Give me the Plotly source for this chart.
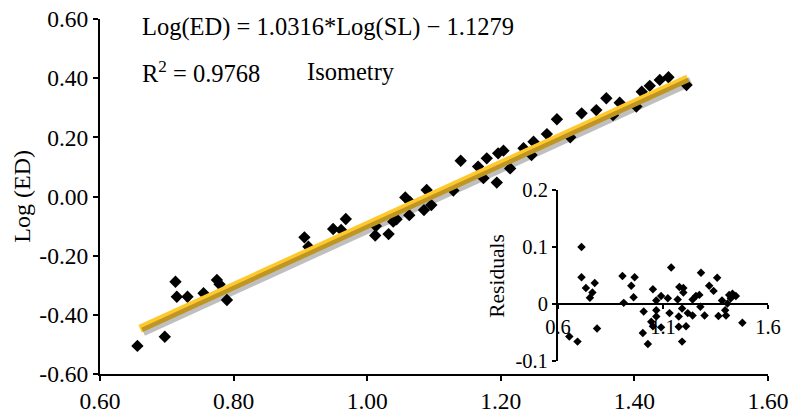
import plotly.graph_objects as go

# ---- data ----
log_sl = [0.656, 0.697, 0.713, 0.715, 0.731, 0.755, 0.775, 0.779, 0.790,
          0.906, 0.912, 0.949, 0.961, 0.968, 1.012, 1.013, 1.032, 1.039, 1.044,
          1.057, 1.063, 1.064, 1.085, 1.089, 1.096, 1.129, 1.140, 1.166, 1.174,
          1.179, 1.194, 1.196, 1.204, 1.214, 1.234, 1.246, 1.249, 1.269, 1.284,
          1.304, 1.321, 1.343, 1.358, 1.368, 1.378, 1.403, 1.411, 1.423, 1.438,
          1.451, 1.478]
log_ed = [-0.505, -0.474, -0.288, -0.339, -0.339, -0.327, -0.282, -0.297, -0.350,
          -0.138, -0.170, -0.110, -0.113, -0.076, -0.132, -0.100, -0.127, -0.085, -0.077,
          -0.003, -0.063, -0.018, -0.046, 0.022, -0.029, 0.020, 0.121, 0.101, 0.062,
          0.129, 0.047, 0.146, 0.155, 0.095, 0.163, 0.140, 0.185, 0.211, 0.261,
          0.200, 0.281, 0.292, 0.332, 0.275, 0.317, 0.304, 0.354, 0.374, 0.394,
          0.403, 0.377]

fit_x = [0.66, 1.48]
fit_y = [-0.447, 0.399]

res_x = [0.712, 0.712, 0.733, 0.775, 0.764, 0.752, 0.786, 0.654, 0.693,
         0.907, 0.913, 0.949, 0.965, 0.960, 1.008, 1.052, 1.068, 1.091, 1.068,
         1.044, 1.052, 1.091, 1.004, 1.028, 1.068, 1.131, 1.139, 1.175, 1.175,
         1.170, 1.178, 1.197, 1.197, 1.191, 1.210, 1.191, 1.218, 1.241, 1.241,
         1.257, 1.273, 1.281, 1.278, 1.298, 1.320, 1.341, 1.358, 1.364, 1.381,
         1.396, 1.400, 1.407, 1.415, 1.431, 1.447, 1.423, 1.478, 1.123]
res_y = [0.100, 0.047, 0.028, 0.037, 0.020, 0.011, -0.043, -0.057, -0.066,
         0.049, 0.002, 0.032, 0.047, 0.012, -0.013, 0.026, 0.006, 0.014, -0.011,
         -0.031, -0.039, -0.041, -0.051, -0.070, -0.022, -0.016, 0.064, -0.022, -0.040,
         0.008, 0.030, 0.028, 0.020, -0.008, -0.039, -0.066, -0.016, -0.020, 0.008,
         0.014, 0.016, 0.055, -0.005, -0.020, 0.032, 0.023, 0.046, -0.021, 0.006,
         -0.011, -0.020, 0.001, 0.016, 0.018, 0.014, 0.010, -0.033, 0.010]

x_ticks = [0.6, 0.8, 1.0, 1.2, 1.4, 1.6]
x_tick_text = ["0.60", "0.80", "1.00", "1.20", "1.40", "1.60"]
y_ticks = [-0.6, -0.4, -0.2, 0.0, 0.2, 0.4, 0.6]
y_tick_text = ["-0.60", "-0.40", "-0.20", "0.00", "0.20", "0.40", "0.60"]
res_x_ticks = [0.6, 1.1, 1.6]
res_x_text = ["0.6", "1.1", "1.6"]
res_y_ticks = [-0.1, 0.0, 0.1, 0.2]
res_y_text = ["-0.1", "0", "0.1", "0.2"]

equation = "Log(ED) = 1.0316*Log(SL) \u2212 1.1279"
r2_text = "R<sup>2</sup> = 0.9768"
iso_text = "Isometry"
y_title = "Log (ED)"
res_title = "Residuals"

FONT = "Liberation Serif"

fig = go.Figure()

# shadow of the trend line (drawn on a hidden axis pair offset by a few pixels)
fig.add_trace(go.Scatter(x=fit_x, y=fit_y, mode="lines", xaxis="x3", yaxis="y3",
                         line=dict(color="rgba(0,0,0,0.25)", width=9),
                         hoverinfo="skip", showlegend=False))
fig.add_trace(go.Scatter(x=log_sl, y=log_ed, mode="markers",
                         marker=dict(symbol="diamond", size=9.5, color="black"),
                         showlegend=False))
fig.add_trace(go.Scatter(x=fit_x, y=fit_y, mode="lines",
                         line=dict(color="#FFC92E", width=8),
                         showlegend=False))
fig.add_trace(go.Scatter(x=res_x, y=res_y, mode="markers", xaxis="x2", yaxis="y2",
                         marker=dict(symbol="diamond", size=6.5, color="black"),
                         showlegend=False))

axis_common = dict(showgrid=False, zeroline=False, showline=True, linecolor="black",
                   linewidth=2, ticks="outside", ticklen=5, tickwidth=1.5, automargin=False,
                   tickcolor="black", tickfont=dict(family=FONT, size=23.5, color="black"))
inset_common = dict(showgrid=False, zeroline=False, showline=True, linecolor="black",
                    linewidth=2, ticks="outside", ticklen=4, tickwidth=1.5, automargin=False,
                    tickcolor="black", tickfont=dict(family=FONT, size=20.5, color="black"))

fig.update_layout(
    width=792, height=413,
    margin=dict(l=100, r=24, t=19, b=39, autoexpand=False),
    paper_bgcolor="white", plot_bgcolor="rgba(0,0,0,0)",
    font=dict(family=FONT, color="black"),
    xaxis=dict(range=[0.6, 1.6], tickvals=x_ticks, ticktext=x_tick_text, **axis_common),
    yaxis=dict(range=[-0.6, 0.6], tickvals=y_ticks, ticktext=y_tick_text, **axis_common),
    xaxis3=dict(range=[0.6 - 0.0045, 1.6 - 0.0045], visible=False, anchor="y3",
                overlaying="x", automargin=False),
    yaxis3=dict(range=[-0.6 + 0.0101, 0.6 + 0.0101], visible=False, anchor="x3",
                overlaying="y", automargin=False),
    xaxis2=dict(domain=[0.6856, 1.0], range=[0.6, 1.6], anchor="free", position=0.197,
                tickvals=res_x_ticks, ticktext=res_x_text, **inset_common),
    yaxis2=dict(domain=[0.0366, 0.5183], range=[-0.1, 0.2], anchor="x2",
                tickvals=res_y_ticks, ticktext=res_y_text, **inset_common),
    annotations=[
        dict(text=equation, x=0.06, y=0.977, xref="paper", yref="paper",
             xanchor="left", yanchor="middle", showarrow=False,
             font=dict(family=FONT, size=24.5, color="black")),
        dict(text=r2_text, x=0.06, y=0.851, xref="paper", yref="paper",
             xanchor="left", yanchor="middle", showarrow=False,
             font=dict(family=FONT, size=24.5, color="black")),
        dict(text=iso_text, x=0.307, y=0.851, xref="paper", yref="paper",
             xanchor="left", yanchor="middle", showarrow=False,
             font=dict(family=FONT, size=24.5, color="black")),
        dict(text=y_title, x=-0.118, y=0.5, xref="paper", yref="paper",
             xanchor="center", yanchor="middle", textangle=-90, showarrow=False,
             font=dict(family=FONT, size=24, color="black")),
        dict(text=res_title, x=0.594, y=0.276, xref="paper", yref="paper",
             xanchor="center", yanchor="middle", textangle=-90, showarrow=False,
             font=dict(family=FONT, size=21.5, color="black")),
    ],
)

fig.write_html("out.html",
               config={"displayModeBar": False},
               post_script="document.body.style.margin='0px';"
                           "document.body.style.overflow='hidden';")
